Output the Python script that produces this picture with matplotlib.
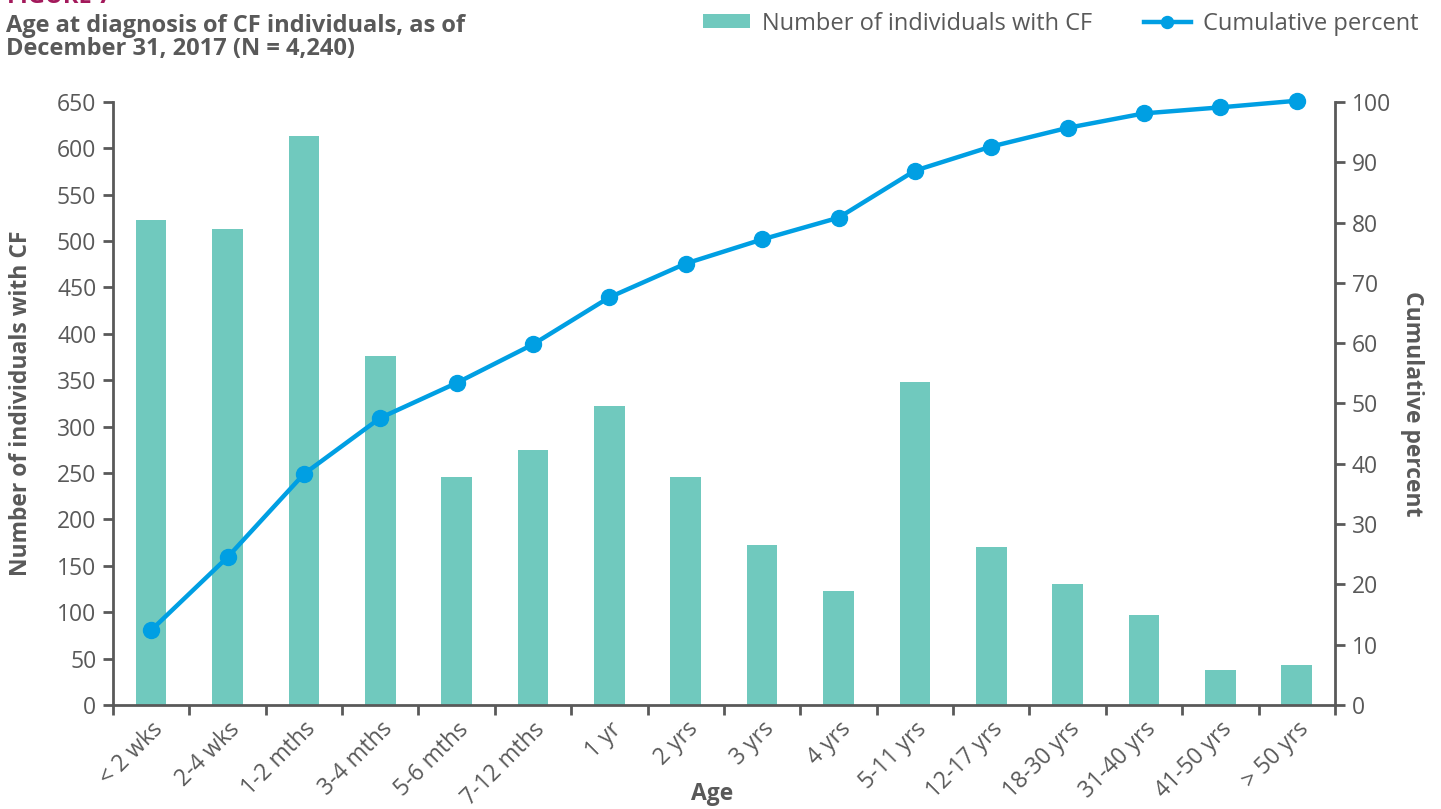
import matplotlib.pyplot as plt
import numpy as np

plt.rcParams['font.family'] = ['Open Sans', 'DejaVu Sans']

# data
ages = ['< 2 wks', '2-4 wks', '1-2 mths', '3-4 mths', '5-6 mths', '7-12 mths',
        '1 yr', '2 yrs', '3 yrs', '4 yrs', '5-11 yrs', '12-17 yrs',
        '18-30 yrs', '31-40 yrs', '41-50 yrs', '> 50 yrs']
counts = [523, 513, 613, 376, 246, 275, 322, 246, 172, 123, 348, 170, 130, 97, 38, 43]
cum_pct = [12.4, 24.5, 38.3, 47.6, 53.4, 59.8, 67.6, 73.2, 77.2, 80.8,
           88.6, 92.6, 95.7, 98.1, 99.1, 100.2]

grey = '#595959'
bar_col = '#70c9be'
line_col = '#009fe3'
fs = 16.5

fig = plt.figure(figsize=(14.41, 8.09), dpi=100)
ax = fig.add_axes([0.0784, 0.1286, 0.848, 0.7454])
ax2 = ax.twinx()

x = np.arange(len(ages))
ax.bar(x, counts, width=0.4, color=bar_col, label='Number of individuals with CF', zorder=2)
ax2.plot(x, cum_pct, color=line_col, lw=3.2, marker='o', ms=11.5, label='Cumulative percent',
         clip_on=False, zorder=3)

ax.set_xlim(-0.5, len(ages) - 0.5)
ax.set_ylim(0, 650)
ax2.set_ylim(0, 100)
ax.set_yticks(np.arange(0, 651, 50))
ax2.set_yticks(np.arange(0, 101, 10))

# x ticks on category borders, labels in the middle
ax.set_xticks(np.arange(-0.5, len(ages), 1.0))
ax.set_xticklabels([])
ax.set_xticks(x, minor=True)
ax.set_xticklabels(ages, minor=True, rotation=45, ha='right', rotation_mode='anchor')
ax.tick_params(axis='x', which='minor', length=0, pad=9, labelsize=fs, labelcolor=grey)
ax.tick_params(axis='x', which='major', length=7, width=2, color=grey)

for a in (ax, ax2):
    for s in a.spines.values():
        s.set_visible(False)
    a.tick_params(axis='y', length=7, width=2, color=grey, labelcolor=grey, labelsize=fs, pad=5)
ax.spines['left'].set_visible(True)
ax.spines['bottom'].set_visible(True)
ax2.spines['right'].set_visible(True)
for s in (ax.spines['left'], ax.spines['bottom'], ax2.spines['right']):
    s.set_color(grey)
    s.set_linewidth(2)

ax.set_xlabel('Age', fontsize=16.5, fontweight='bold', color=grey)
ax.xaxis.set_label_coords(0.49, -0.128)
ax.set_ylabel('Number of individuals with CF', fontsize=16.5, fontweight='bold', color=grey, labelpad=17)
ax2.set_ylabel('Cumulative percent', fontsize=16.5, fontweight='bold', color=grey,
               rotation=270, labelpad=24)

fig.text(0.005, 1.004, 'FIGURE 7', fontsize=17, fontweight='bold', color='#a3195b', va='center')
fig.text(0.004, 0.924, 'Age at diagnosis of CF individuals, as of\nDecember 31, 2017 (N = 4,240)',
         fontsize=17, fontweight='bold', color=grey, va='bottom', linespacing=0.98)

h1, l1 = ax.get_legend_handles_labels()
h2, l2 = ax2.get_legend_handles_labels()
fig.legend(h1 + h2, l1 + l2, ncol=2, loc='upper right', bbox_to_anchor=(0.999, 1.012),
           frameon=False, fontsize=17, labelcolor=grey, handlelength=2.0, handleheight=0.5,
           columnspacing=2.2, handletextpad=0.5, markerscale=0.75)

plt.savefig('out.png', dpi=100)
